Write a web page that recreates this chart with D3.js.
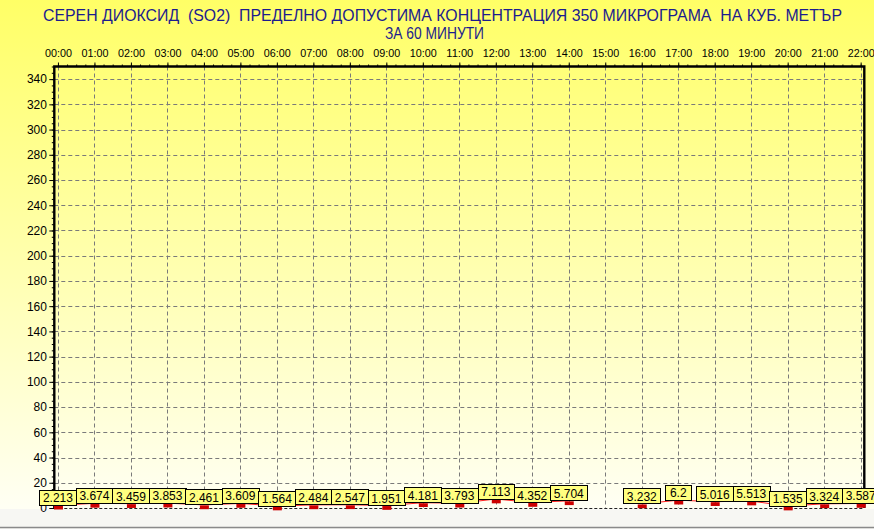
<!DOCTYPE html>
<html>
<head>
<meta charset="utf-8">
<script src="https://cdn.jsdelivr.net/npm/d3@7"></script>
<style>
  html, body { margin: 0; padding: 0; background: #fff; }
  svg { display: block; }
  text { font-family: "Liberation Sans", Arial, sans-serif; }
  .title { white-space: pre; }
</style>
</head>
<body>
<svg id="chart" width="874" height="529"></svg>
<script>
const titleLine1 = "СЕРЕН ДИОКСИД  (SO2)  ПРЕДЕЛНО ДОПУСТИМА КОНЦЕНТРАЦИЯ 350 МИКРОГРАМА  НА КУБ. МЕТЪР";
const titleLine2 = "ЗА 60 МИНУТИ";
const hours = ["00:00","01:00","02:00","03:00","04:00","05:00","06:00","07:00","08:00","09:00","10:00","11:00",
               "12:00","13:00","14:00","15:00","16:00","17:00","18:00","19:00","20:00","21:00","22:00"];
const values = [2.213, 3.674, 3.459, 3.853, 2.461, 3.609, 1.564, 2.484, 2.547, 1.951, 4.181, 3.793,
                7.113, 4.352, 5.704, null, 3.232, 6.2, 5.016, 5.513, 1.535, 3.324, 3.587];
const labels = ["2.213","3.674","3.459","3.853","2.461","3.609","1.564","2.484","2.547","1.951","4.181","3.793",
                "7.113","4.352","5.704",null,"3.232","6.2","5.016","5.513","1.535","3.324","3.587"];
const yTicks = d3.range(0, 341, 20);
const yMinor = d3.range(0, 351, 5);
const xMinor = d3.range(0, 22.01, 0.25);

const W = 874, H = 529;
const L = 54.3, R = 864.3, T = 66.5, B = 508;
const svg = d3.select("#chart");

const x = d3.scaleLinear().domain([-0.1, 22.1]).range([L, R]);
const y = d3.scaleLinear().domain([0, 350]).range([B, T]);

// background gradient
const defs = svg.append("defs");
const g = defs.append("linearGradient").attr("id", "bg").attr("x1", 0).attr("y1", 0).attr("x2", 0).attr("y2", 1);
g.append("stop").attr("offset", "0%").attr("stop-color", "#ffff66");
g.append("stop").attr("offset", "50%").attr("stop-color", "#ffffac");
g.append("stop").attr("offset", "100%").attr("stop-color", "#fffff4");
svg.append("rect").attr("x", 0).attr("y", 0).attr("width", W).attr("height", B + 2).attr("fill", "url(#bg)");
svg.append("rect").attr("x", 0).attr("y", B + 1).attr("width", W).attr("height", H - B - 1).attr("fill", "#f7f7f3");
svg.append("line").attr("x1", 0).attr("x2", W).attr("y1", 527.5).attr("y2", 527.5)
  .attr("stroke", "#8a8a8a").attr("stroke-width", 1.5);

// title
svg.append("text").attr("class", "title").attr("x", 43).attr("y", 21).attr("fill", "#1c1c8e").attr("font-size", 16.5)
  .attr("textLength", 799).attr("lengthAdjust", "spacingAndGlyphs").text(titleLine1);
svg.append("text").attr("class", "title").attr("x", 385).attr("y", 38.5).attr("fill", "#1c1c8e").attr("font-size", 16.5)
  .attr("textLength", 99).attr("lengthAdjust", "spacingAndGlyphs").text(titleLine2);

// grid
const grid = svg.append("g").attr("stroke", "#7a7a7a").attr("stroke-width", 1).attr("stroke-dasharray", "4,3");
grid.selectAll("line.h").data(yTicks.filter(d => d > 0)).join("line")
  .attr("x1", L).attr("x2", R).attr("y1", d => Math.round(y(d)) + 0.5).attr("y2", d => Math.round(y(d)) + 0.5);
grid.selectAll("line.v").data(d3.range(0, 23)).join("line")
  .attr("y1", T).attr("y2", B).attr("x1", d => Math.round(x(d)) + 0.5).attr("x2", d => Math.round(x(d)) + 0.5);
// zero line
svg.append("line").attr("x1", L).attr("x2", R).attr("y1", B + 0.5).attr("y2", B + 0.5)
  .attr("stroke", "#222").attr("stroke-dasharray", "3,2");

// axes
const yAxis = svg.append("g").attr("transform", `translate(${L},0)`)
  .call(d3.axisLeft(y).tickValues(yTicks).tickSize(5).tickPadding(2.4));
yAxis.select(".domain").remove();
yAxis.selectAll("text").attr("font-size", 12).attr("fill", "#000").attr("font-family", '"Liberation Sans", Arial, sans-serif');
yAxis.selectAll("line").attr("stroke", "#000");
const yMin = svg.append("g").attr("transform", `translate(${L},0)`)
  .call(d3.axisLeft(y).tickValues(yMinor).tickSize(2.5).tickFormat(""));
yMin.select(".domain").remove();
yMin.selectAll("line").attr("stroke", "#000");

const xAxis = svg.append("g").attr("transform", `translate(0,${T})`)
  .call(d3.axisTop(x).tickValues(d3.range(0, 23)).tickFormat(i => hours[i]).tickSize(4).tickPadding(5.8));
xAxis.select(".domain").remove();
xAxis.selectAll("text").attr("font-size", 10.8).attr("fill", "#000").attr("font-family", '"Liberation Sans", Arial, sans-serif')
  .attr("textLength", 27).attr("lengthAdjust", "spacingAndGlyphs");
xAxis.selectAll("line").attr("stroke", "#000");
const xMin = svg.append("g").attr("transform", `translate(0,${T})`)
  .call(d3.axisTop(x).tickValues(xMinor).tickSize(2).tickFormat(""));
xMin.select(".domain").remove();
xMin.selectAll("line").attr("stroke", "#000");

// frame
svg.append("path").attr("d", `M${L},${B}V${T}H${R}V${B}`).attr("fill", "none")
  .attr("stroke", "#000").attr("stroke-width", 2.4);

// series line
const pts = values.map((v, i) => ({ i, v }));
const line = d3.line().defined(d => d.v != null).x(d => x(d.i)).y(d => y(d.v));
svg.append("path").datum(pts).attr("d", line).attr("fill", "none").attr("stroke", "#ff2020").attr("stroke-width", 1);

// markers
svg.selectAll("rect.mk").data(pts.filter(d => d.v != null)).join("rect")
  .attr("class", "mk")
  .attr("x", d => x(d.i) - 4).attr("y", d => y(d.v) + 0.5)
  .attr("width", 9).attr("height", 3.8).attr("fill", "#cc0000");

// labels
const lg = svg.append("g");
pts.filter(d => d.v != null).forEach(d => {
  const cx = x(d.i);
  const bottom = y(d.v) + 0.5;
  const gg = lg.append("g");
  const r = gg.append("rect").attr("fill", "#ffff80").attr("stroke", "#000").attr("stroke-width", 1);
  const t = gg.append("text").attr("x", cx).attr("y", bottom - 3.5).attr("text-anchor", "middle")
    .attr("font-size", 12).attr("fill", "#000").text(labels[d.i]);
  const tw = t.node().getComputedTextLength();
  const bw = Math.max(tw + 7, 26);
  r.attr("x", Math.round(cx - bw / 2) + 0.5).attr("y", Math.round(bottom - 16) + 0.5)
    .attr("width", Math.round(bw)).attr("height", 15);
});
</script>
</body>
</html>
